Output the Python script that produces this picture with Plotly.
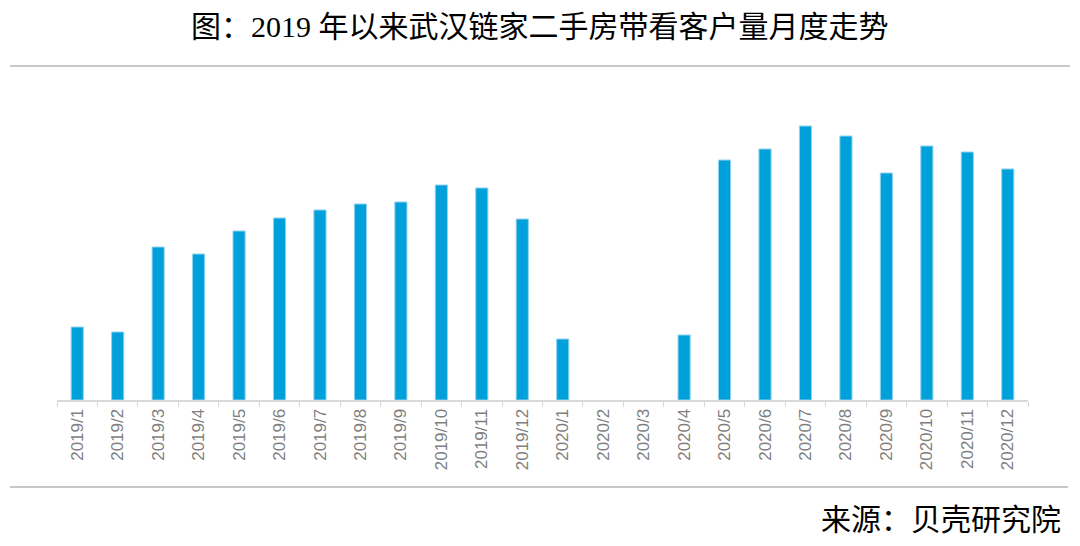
import plotly.graph_objects as go

categories = ["2019/1", "2019/2", "2019/3", "2019/4", "2019/5", "2019/6", "2019/7", "2019/8",
              "2019/9", "2019/10", "2019/11", "2019/12", "2020/1", "2020/2", "2020/3", "2020/4",
              "2020/5", "2020/6", "2020/7", "2020/8", "2020/9", "2020/10", "2020/11", "2020/12"]
values = [73, 68, 153, 146, 169, 182, 190, 196, 198, 215, 212, 181, 61, 0, 0, 65,
          240, 251, 274, 264, 227, 254, 248, 231]

title_text = "图：2019 年以来武汉链家二手房带看客户量月度走势"
source_text = "来源：贝壳研究院"

# page has an 8px body margin; target pixel positions are in window coordinates
OFF = 8
W, H = 1080 - OFF, 546 - OFF
L, T = 57 - OFF, 100 - OFF
R = W - (1028 - OFF)
B = H - (400 - OFF)
PW, PH = W - L - R, H - T - B

def px(x):
    return (x - OFF - L) / PW

def py(y):
    return (H - B - (y - OFF)) / PH

fig = go.Figure(go.Bar(
    x=categories, y=values,
    marker=dict(color="#00A0DA",
                line=dict(color="#8fd3ef", width=[1 if v > 0 else 0 for v in values])),
    width=0.3,
))

fig.update_layout(
    width=W, height=H,
    margin=dict(l=L, r=R, t=T, b=B),
    paper_bgcolor="white", plot_bgcolor="white",
    showlegend=False,
    xaxis=dict(
        type="category", tickangle=-90,
        showline=True, linecolor="#d9d9d9", linewidth=2,
        ticks="outside", tickson="boundaries", ticklen=5, tickcolor="#d9d9d9", tickwidth=1,
        tickfont=dict(family="Liberation Sans Narrow, Arial Narrow, Liberation Sans, Arial", size=17, color="#7f7f7f"),
        showgrid=False, zeroline=False,
    ),
    yaxis=dict(range=[0, 300], visible=False, showgrid=False, zeroline=False),
    annotations=[
        dict(text=title_text, xref="paper", yref="paper", x=px(540), y=py(27),
             xanchor="center", yanchor="middle", showarrow=False,
             font=dict(family="Liberation Serif, Times New Roman, Noto Sans CJK SC", size=30, color="#000000")),
        dict(text=source_text, xref="paper", yref="paper", x=px(1063), y=py(517),
             xanchor="right", yanchor="middle", showarrow=False,
             font=dict(family="Noto Sans CJK SC", size=30, color="#000000")),
    ],
    shapes=[
        dict(type="line", xref="paper", yref="paper", x0=px(10), x1=px(1070), y0=py(66), y1=py(66),
             line=dict(color="#c8c8c8", width=2)),
        dict(type="line", xref="paper", yref="paper", x0=px(10), x1=px(1068), y0=py(487), y1=py(487),
             line=dict(color="#c8c8c8", width=2)),
    ],
)

fig.write_html("out.html")
